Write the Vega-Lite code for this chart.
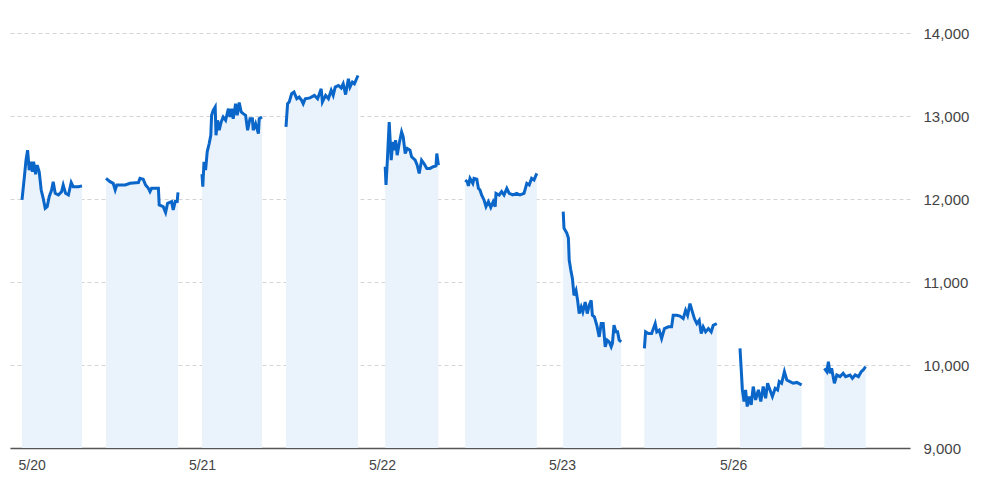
{
  "$schema": "https://vega.github.io/schema/vega-lite/v6.json",
  "width": 900,
  "height": 448,
  "autosize": {"type": "none"},
  "padding": {"left": 10, "top": 0, "right": 78, "bottom": 51},
  "config": {"view": {"stroke": null}, "font": "Liberation Sans"},
  "datasets": {
    "prices": [
      {"seg":"5/20 AM","t":0,"price":11990},{"seg":"5/20 AM","t":6,"price":12270},{"seg":"5/20 AM","t":10,"price":12470},{"seg":"5/20 AM","t":14,"price":12590},{"seg":"5/20 AM","t":18,"price":12350},{"seg":"5/20 AM","t":23,"price":12450},{"seg":"5/20 AM","t":26,"price":12330},{"seg":"5/20 AM","t":29,"price":12450},{"seg":"5/20 AM","t":34,"price":12300},{"seg":"5/20 AM","t":38,"price":12410},{"seg":"5/20 AM","t":43,"price":12330},{"seg":"5/20 AM","t":48,"price":12110},{"seg":"5/20 AM","t":53,"price":12010},{"seg":"5/20 AM","t":58,"price":11890},{"seg":"5/20 AM","t":63,"price":11910},{"seg":"5/20 AM","t":68,"price":12030},{"seg":"5/20 AM","t":74,"price":12110},{"seg":"5/20 AM","t":78,"price":12210},{"seg":"5/20 AM","t":83,"price":12070},{"seg":"5/20 AM","t":91,"price":12050},{"seg":"5/20 AM","t":99,"price":12090},{"seg":"5/20 AM","t":103,"price":12170},{"seg":"5/20 AM","t":109,"price":12070},{"seg":"5/20 AM","t":116,"price":12050},{"seg":"5/20 AM","t":123,"price":12200},{"seg":"5/20 AM","t":128,"price":12150},{"seg":"5/20 AM","t":141,"price":12150},{"seg":"5/20 AM","t":150,"price":12160},
      {"seg":"5/20 PM","t":210,"price":12250},{"seg":"5/20 PM","t":220,"price":12210},{"seg":"5/20 PM","t":228,"price":12190},{"seg":"5/20 PM","t":233,"price":12110},{"seg":"5/20 PM","t":237,"price":12170},{"seg":"5/20 PM","t":258,"price":12170},{"seg":"5/20 PM","t":270,"price":12190},{"seg":"5/20 PM","t":291,"price":12200},{"seg":"5/20 PM","t":295,"price":12250},{"seg":"5/20 PM","t":303,"price":12240},{"seg":"5/20 PM","t":309,"price":12170},{"seg":"5/20 PM","t":316,"price":12130},{"seg":"5/20 PM","t":320,"price":12090},{"seg":"5/20 PM","t":324,"price":12130},{"seg":"5/20 PM","t":341,"price":12130},{"seg":"5/20 PM","t":343,"price":11930},{"seg":"5/20 PM","t":353,"price":11910},{"seg":"5/20 PM","t":359,"price":11840},{"seg":"5/20 PM","t":364,"price":11950},{"seg":"5/20 PM","t":374,"price":11970},{"seg":"5/20 PM","t":378,"price":11870},{"seg":"5/20 PM","t":383,"price":11970},{"seg":"5/20 PM","t":388,"price":11970},{"seg":"5/20 PM","t":390,"price":12080},
      {"seg":"5/21 AM","t":450,"price":12300},{"seg":"5/21 AM","t":452,"price":12150},{"seg":"5/21 AM","t":455,"price":12450},{"seg":"5/21 AM","t":459,"price":12350},{"seg":"5/21 AM","t":463,"price":12570},{"seg":"5/21 AM","t":468,"price":12670},{"seg":"5/21 AM","t":472,"price":12770},{"seg":"5/21 AM","t":474,"price":13010},{"seg":"5/21 AM","t":478,"price":13070},{"seg":"5/21 AM","t":483,"price":13110},{"seg":"5/21 AM","t":485,"price":12770},{"seg":"5/21 AM","t":489,"price":12950},{"seg":"5/21 AM","t":493,"price":12830},{"seg":"5/21 AM","t":498,"price":12930},{"seg":"5/21 AM","t":503,"price":12990},{"seg":"5/21 AM","t":509,"price":12950},{"seg":"5/21 AM","t":516,"price":13090},{"seg":"5/21 AM","t":520,"price":12990},{"seg":"5/21 AM","t":524,"price":13090},{"seg":"5/21 AM","t":528,"price":12970},{"seg":"5/21 AM","t":534,"price":13150},{"seg":"5/21 AM","t":538,"price":13010},{"seg":"5/21 AM","t":543,"price":13165},{"seg":"5/21 AM","t":548,"price":13050},{"seg":"5/21 AM","t":553,"price":13030},{"seg":"5/21 AM","t":559,"price":13010},{"seg":"5/21 AM","t":564,"price":12830},{"seg":"5/21 AM","t":570,"price":12970},{"seg":"5/21 AM","t":576,"price":12970},{"seg":"5/21 AM","t":578,"price":12830},{"seg":"5/21 AM","t":584,"price":12910},{"seg":"5/21 AM","t":591,"price":12790},{"seg":"5/21 AM","t":593,"price":12970},{"seg":"5/21 AM","t":600,"price":12990},
      {"seg":"5/21 PM","t":660,"price":12870},{"seg":"5/21 PM","t":662,"price":13010},{"seg":"5/21 PM","t":664,"price":13150},{"seg":"5/21 PM","t":668,"price":13170},{"seg":"5/21 PM","t":674,"price":13270},{"seg":"5/21 PM","t":680,"price":13290},{"seg":"5/21 PM","t":687,"price":13210},{"seg":"5/21 PM","t":693,"price":13230},{"seg":"5/21 PM","t":699,"price":13190},{"seg":"5/21 PM","t":703,"price":13150},{"seg":"5/21 PM","t":708,"price":13210},{"seg":"5/21 PM","t":720,"price":13220},{"seg":"5/21 PM","t":731,"price":13250},{"seg":"5/21 PM","t":739,"price":13210},{"seg":"5/21 PM","t":748,"price":13330},{"seg":"5/21 PM","t":751,"price":13170},{"seg":"5/21 PM","t":759,"price":13250},{"seg":"5/21 PM","t":766,"price":13210},{"seg":"5/21 PM","t":773,"price":13310},{"seg":"5/21 PM","t":778,"price":13250},{"seg":"5/21 PM","t":783,"price":13350},{"seg":"5/21 PM","t":791,"price":13370},{"seg":"5/21 PM","t":798,"price":13340},{"seg":"5/21 PM","t":803,"price":13390},{"seg":"5/21 PM","t":809,"price":13260},{"seg":"5/21 PM","t":816,"price":13450},{"seg":"5/21 PM","t":820,"price":13350},{"seg":"5/21 PM","t":826,"price":13410},{"seg":"5/21 PM","t":831,"price":13390},{"seg":"5/21 PM","t":840,"price":13490},
      {"seg":"5/22 AM","t":908,"price":12390},{"seg":"5/22 AM","t":910,"price":12170},{"seg":"5/22 AM","t":913,"price":12430},{"seg":"5/22 AM","t":918,"price":12930},{"seg":"5/22 AM","t":923,"price":12470},{"seg":"5/22 AM","t":927,"price":12690},{"seg":"5/22 AM","t":930,"price":12590},{"seg":"5/22 AM","t":934,"price":12710},{"seg":"5/22 AM","t":938,"price":12530},{"seg":"5/22 AM","t":943,"price":12670},{"seg":"5/22 AM","t":949,"price":12810},{"seg":"5/22 AM","t":953,"price":12750},{"seg":"5/22 AM","t":958,"price":12550},{"seg":"5/22 AM","t":963,"price":12610},{"seg":"5/22 AM","t":970,"price":12590},{"seg":"5/22 AM","t":974,"price":12510},{"seg":"5/22 AM","t":983,"price":12470},{"seg":"5/22 AM","t":988,"price":12410},{"seg":"5/22 AM","t":993,"price":12310},{"seg":"5/22 AM","t":999,"price":12470},{"seg":"5/22 AM","t":1005,"price":12430},{"seg":"5/22 AM","t":1012,"price":12370},{"seg":"5/22 AM","t":1020,"price":12370},{"seg":"5/22 AM","t":1028,"price":12390},{"seg":"5/22 AM","t":1035,"price":12400},{"seg":"5/22 AM","t":1037,"price":12550},{"seg":"5/22 AM","t":1041,"price":12410},
      {"seg":"5/22 PM","t":1108,"price":12230},{"seg":"5/22 PM","t":1113,"price":12210},{"seg":"5/22 PM","t":1116,"price":12160},{"seg":"5/22 PM","t":1120,"price":12250},{"seg":"5/22 PM","t":1127,"price":12190},{"seg":"5/22 PM","t":1130,"price":12250},{"seg":"5/22 PM","t":1137,"price":12240},{"seg":"5/22 PM","t":1141,"price":12130},{"seg":"5/22 PM","t":1145,"price":12110},{"seg":"5/22 PM","t":1149,"price":12050},{"seg":"5/22 PM","t":1155,"price":11990},{"seg":"5/22 PM","t":1160,"price":11910},{"seg":"5/22 PM","t":1166,"price":11970},{"seg":"5/22 PM","t":1172,"price":11900},{"seg":"5/22 PM","t":1178,"price":11970},{"seg":"5/22 PM","t":1183,"price":11910},{"seg":"5/22 PM","t":1185,"price":12070},{"seg":"5/22 PM","t":1193,"price":12050},{"seg":"5/22 PM","t":1199,"price":12090},{"seg":"5/22 PM","t":1205,"price":12050},{"seg":"5/22 PM","t":1212,"price":12130},{"seg":"5/22 PM","t":1218,"price":12070},{"seg":"5/22 PM","t":1227,"price":12050},{"seg":"5/22 PM","t":1237,"price":12070},{"seg":"5/22 PM","t":1245,"price":12050},{"seg":"5/22 PM","t":1255,"price":12070},{"seg":"5/22 PM","t":1262,"price":12190},{"seg":"5/22 PM","t":1268,"price":12170},{"seg":"5/22 PM","t":1274,"price":12250},{"seg":"5/22 PM","t":1280,"price":12230},{"seg":"5/22 PM","t":1287,"price":12310},
      {"seg":"5/23 AM","t":1353,"price":11850},{"seg":"5/23 AM","t":1355,"price":11650},{"seg":"5/23 AM","t":1362,"price":11590},{"seg":"5/23 AM","t":1366,"price":11530},{"seg":"5/23 AM","t":1368,"price":11265},{"seg":"5/23 AM","t":1372,"price":11145},{"seg":"5/23 AM","t":1376,"price":11045},{"seg":"5/23 AM","t":1380,"price":10840},{"seg":"5/23 AM","t":1385,"price":10900},{"seg":"5/23 AM","t":1389,"price":10780},{"seg":"5/23 AM","t":1393,"price":10620},{"seg":"5/23 AM","t":1398,"price":10700},{"seg":"5/23 AM","t":1402,"price":10640},{"seg":"5/23 AM","t":1408,"price":10760},{"seg":"5/23 AM","t":1413,"price":10620},{"seg":"5/23 AM","t":1418,"price":10720},{"seg":"5/23 AM","t":1423,"price":10780},{"seg":"5/23 AM","t":1426,"price":10600},{"seg":"5/23 AM","t":1431,"price":10580},{"seg":"5/23 AM","t":1437,"price":10480},{"seg":"5/23 AM","t":1443,"price":10340},{"seg":"5/23 AM","t":1448,"price":10500},{"seg":"5/23 AM","t":1453,"price":10500},{"seg":"5/23 AM","t":1458,"price":10220},{"seg":"5/23 AM","t":1463,"price":10300},{"seg":"5/23 AM","t":1468,"price":10280},{"seg":"5/23 AM","t":1473,"price":10220},{"seg":"5/23 AM","t":1476,"price":10260},{"seg":"5/23 AM","t":1480,"price":10480},{"seg":"5/23 AM","t":1485,"price":10400},{"seg":"5/23 AM","t":1489,"price":10400},{"seg":"5/23 AM","t":1493,"price":10300},{"seg":"5/23 AM","t":1498,"price":10280},
      {"seg":"5/23 PM","t":1556,"price":10200},{"seg":"5/23 PM","t":1559,"price":10400},{"seg":"5/23 PM","t":1566,"price":10380},{"seg":"5/23 PM","t":1574,"price":10380},{"seg":"5/23 PM","t":1583,"price":10500},{"seg":"5/23 PM","t":1587,"price":10400},{"seg":"5/23 PM","t":1593,"price":10420},{"seg":"5/23 PM","t":1599,"price":10320},{"seg":"5/23 PM","t":1606,"price":10440},{"seg":"5/23 PM","t":1616,"price":10460},{"seg":"5/23 PM","t":1624,"price":10460},{"seg":"5/23 PM","t":1628,"price":10600},{"seg":"5/23 PM","t":1637,"price":10600},{"seg":"5/23 PM","t":1645,"price":10590},{"seg":"5/23 PM","t":1653,"price":10560},{"seg":"5/23 PM","t":1659,"price":10660},{"seg":"5/23 PM","t":1664,"price":10600},{"seg":"5/23 PM","t":1670,"price":10740},{"seg":"5/23 PM","t":1676,"price":10640},{"seg":"5/23 PM","t":1681,"price":10560},{"seg":"5/23 PM","t":1687,"price":10500},{"seg":"5/23 PM","t":1693,"price":10540},{"seg":"5/23 PM","t":1698,"price":10380},{"seg":"5/23 PM","t":1703,"price":10460},{"seg":"5/23 PM","t":1709,"price":10400},{"seg":"5/23 PM","t":1716,"price":10440},{"seg":"5/23 PM","t":1723,"price":10400},{"seg":"5/23 PM","t":1728,"price":10480},{"seg":"5/23 PM","t":1737,"price":10500},
      {"seg":"5/26 AM","t":1795,"price":10200},{"seg":"5/26 AM","t":1801,"price":9700},{"seg":"5/26 AM","t":1805,"price":9560},{"seg":"5/26 AM","t":1809,"price":9700},{"seg":"5/26 AM","t":1813,"price":9500},{"seg":"5/26 AM","t":1818,"price":9620},{"seg":"5/26 AM","t":1823,"price":9520},{"seg":"5/26 AM","t":1828,"price":9740},{"seg":"5/26 AM","t":1834,"price":9580},{"seg":"5/26 AM","t":1841,"price":9700},{"seg":"5/26 AM","t":1847,"price":9560},{"seg":"5/26 AM","t":1853,"price":9740},{"seg":"5/26 AM","t":1859,"price":9600},{"seg":"5/26 AM","t":1864,"price":9780},{"seg":"5/26 AM","t":1870,"price":9700},{"seg":"5/26 AM","t":1876,"price":9620},{"seg":"5/26 AM","t":1883,"price":9720},{"seg":"5/26 AM","t":1889,"price":9700},{"seg":"5/26 AM","t":1893,"price":9800},{"seg":"5/26 AM","t":1899,"price":9780},{"seg":"5/26 AM","t":1906,"price":9920},{"seg":"5/26 AM","t":1912,"price":9820},{"seg":"5/26 AM","t":1920,"price":9800},{"seg":"5/26 AM","t":1928,"price":9780},{"seg":"5/26 AM","t":1937,"price":9790},{"seg":"5/26 AM","t":1949,"price":9760},
      {"seg":"5/26 PM","t":2006,"price":9960},{"seg":"5/26 PM","t":2012,"price":9920},{"seg":"5/26 PM","t":2016,"price":10040},{"seg":"5/26 PM","t":2020,"price":9900},{"seg":"5/26 PM","t":2024,"price":9960},{"seg":"5/26 PM","t":2031,"price":9780},{"seg":"5/26 PM","t":2037,"price":9880},{"seg":"5/26 PM","t":2045,"price":9860},{"seg":"5/26 PM","t":2053,"price":9900},{"seg":"5/26 PM","t":2059,"price":9860},{"seg":"5/26 PM","t":2070,"price":9880},{"seg":"5/26 PM","t":2076,"price":9840},{"seg":"5/26 PM","t":2083,"price":9880},{"seg":"5/26 PM","t":2091,"price":9860},{"seg":"5/26 PM","t":2098,"price":9920},{"seg":"5/26 PM","t":2103,"price":9940},{"seg":"5/26 PM","t":2109,"price":9980}
    ]
  },
  "data": {"name": "prices"},
  "encoding": {
    "x": {
      "field": "t",
      "type": "quantitative",
      "scale": {"domain": [-30, 2220], "nice": false, "zero": false},
      "axis": {
        "title": null,
        "orient": "bottom",
        "values": [0, 450, 900, 1350, 1778],
        "labelExpr": "datum.value < 200 ? '5/20' : datum.value < 700 ? '5/21' : datum.value < 1100 ? '5/22' : datum.value < 1500 ? '5/23' : '5/26'",
        "grid": false,
        "ticks": false,
        "domainColor": "#555555",
        "domainWidth": 1.5,
        "labelColor": "#444444",
        "labelFontSize": 14,
        "labelPadding": 10,
        "labelFlush": 15,
        "labelFlushOffset": 4
      }
    },
    "y": {
      "field": "price",
      "type": "quantitative",
      "scale": {"domain": [9000, 14400], "nice": false, "zero": false},
      "axis": {
        "title": null,
        "orient": "right",
        "values": [9000, 10000, 11000, 12000, 13000, 14000],
        "format": ",.0f",
        "domain": false,
        "ticks": false,
        "grid": true,
        "gridDash": [4, 3],
        "gridColor": "#d4d4d4",
        "labelColor": "#444444",
        "labelFontSize": 15,
        "labelPadding": 13
      }
    },
    "detail": {"field": "seg"}
  },
  "layer": [
    {
      "mark": {"type": "area", "color": "#eaf2fb", "opacity": 1},
      "encoding": {"y2": {"datum": 9000}}
    },
    {
      "mark": {"type": "line", "color": "#0a66c8", "strokeWidth": 3}
    }
  ]
}
